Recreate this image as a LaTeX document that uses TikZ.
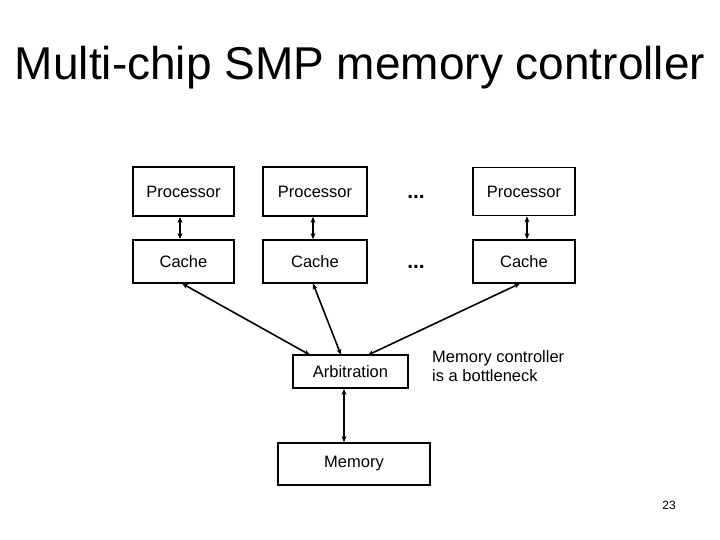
\documentclass[tikz,border=0pt]{standalone}
\usepackage{fontspec}
\setmainfont{Liberation Sans}
\usetikzlibrary{arrows.meta}
\tikzset{
  box/.style={draw, line width=1.8pt, inner sep=0pt, font=\fontsize{16.5}{18}\selectfont},
  link/.style={line width=1.6pt, {Stealth[length=6pt,width=5pt]}-{Stealth[length=6pt,width=5pt]}},
  lbl/.style={font=\fontsize{16.5}{19}\selectfont, inner sep=0pt},
  dots/.style={font=\fontsize{21}{24}\selectfont\bfseries, inner sep=0pt}
}
\begin{document}
\begin{tikzpicture}[x=1pt,y=-1pt]
\useasboundingbox (0,0) rectangle (720,540);
\node[anchor=base, inner sep=0pt, font=\fontsize{46}{50}\selectfont] (title) at (360,80) {Multi-chip SMP memory controller};
% processors
\node[box, minimum width=101pt, minimum height=49pt] (p1) at (183.5,191.5) {Processor};
\node[box, minimum width=104pt, minimum height=49pt] (p2) at (315,191.5) {Processor};
\node[box, minimum width=102pt, minimum height=48pt] (p3) at (524,191.5) {Processor};
% caches
\node[box, minimum width=101pt, minimum height=43pt] (c1) at (183.5,261.5) {Cache};
\node[box, minimum width=104pt, minimum height=43pt] (c2) at (315,261.5) {Cache};
\node[box, minimum width=102pt, minimum height=43pt] (c3) at (524,261.5) {Cache};
% dots
\node[dots, anchor=base] (d1) at (416,199) {...};
\node[dots, anchor=base] (d2) at (416,268) {...};
% arbitration and memory
\node[box, minimum width=115pt, minimum height=33pt] (arb) at (350.5,371.5) {Arbitration};
\node[box, minimum width=152pt, minimum height=42pt] (mem) at (354,464) {Memory};
\node[lbl, anchor=north west, align=left] (note) at (432,350) {Memory controller\\is a bottleneck};
\node[inner sep=0pt, font=\fontsize{12}{14}\selectfont] (pg) at (669,505) {23};
% coordinates for arrow ends
\coordinate (c1b) at (182,283.5);
\coordinate (c2b) at (313,283.5);
\coordinate (c3b) at (520,283.5);
\coordinate (a1) at (310,355);
\coordinate (a2) at (341,355);
\coordinate (a3) at (368,355);
% connectors
\draw[link] (p1.south -| 180,0) -- (c1.north -| 180,0);
\draw[link] (p2.south -| 313,0) -- (c2.north -| 313,0);
\draw[link] (p3.south -| 527,0) -- (c3.north -| 527,0);
\draw[link] (c1b) -- (a1);
\draw[link] (c2b) -- (a2);
\draw[link] (c3b) -- (a3);
\draw[link] (arb.south -| 344,0) -- (mem.north -| 344,0);
\end{tikzpicture}
\end{document}
